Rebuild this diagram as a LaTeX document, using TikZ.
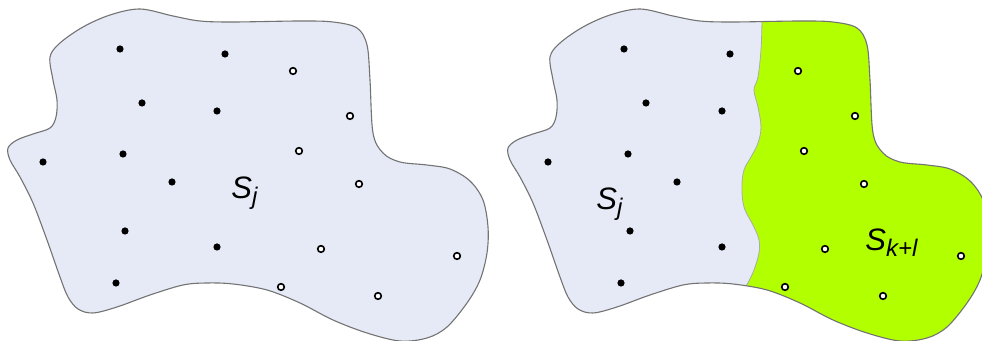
\documentclass[tikz,border=0pt]{standalone}
\usepackage{fontspec}
\setmainfont{Liberation Sans}
\definecolor{regionblue}{RGB}{229,234,246}
\definecolor{regiongreen}{RGB}{178,255,0}
\definecolor{edgegray}{RGB}{115,115,115}
\tikzset{
  blob/.style={insert path={plot[smooth cycle, tension=0.55] coordinates {
    (50,57) (60,43) (83,27) (110,15) (140,9) (173,16) (200,21) (233,22)
    (300,21) (333,22) (357,28) (367,45) (370,80) (373,133) (383,153)
    (400,162) (427,165) (450,169) (470,181) (483,200) (488,227) (487,253)
    (480,280) (467,303) (447,327) (427,338) (400,341) (367,333) (333,320)
    (300,303) (267,290) (233,284) (207,283) (183,285) (150,295) (117,307)
    (93,313) (78,309) (68,297) (60,277) (47,240) (33,203) (20,177) (10,160)
    (8,148) (17,140) (33,134) (50,128) (56,117) (57,100) (53,80)}}},
  soliddot/.style={circle, fill=black, inner sep=0pt, minimum size=3.6pt},
  opendot/.style={circle, draw=black, fill=white, line width=0.8pt, inner sep=0pt, minimum size=3.3pt},
  setlabel/.style={anchor=base west, inner sep=0pt, font=\fontsize{15.5}{18}\selectfont\itshape}
}
\newcommand{\sub}[1]{\raisebox{-3pt}{\fontsize{12}{14}\selectfont\itshape #1}}
\begin{document}
\begin{tikzpicture}[x=0.5pt, y=-0.5pt]
  \useasboundingbox (0,0) rectangle (982,341);
  \clip (0,0) rectangle (982,341);
  % === left set S_j ===
  \path[blob, fill=regionblue];
  \path[blob, draw=edgegray, line width=0.55pt];
  \foreach \x/\y [count=\i] in {120/49, 225/54, 142/103, 217/111, 123/154,
      43/162, 172/182, 125/231, 217/247, 116/283}
    \node[soliddot] (sL\i) at (\x,\y) {};
  \foreach \x/\y [count=\i] in {293/71, 350/116, 299/151, 359/184, 321/249,
      457/256, 281/287, 378/296}
    \node[opendot] (oL\i) at (\x,\y) {};
  \node[setlabel] (labSj) at (231,199) {S\sub{j}};
  % === right set, split into S_j and S_{k+l} ===
  \begin{scope}[shift={(500,0)}]
    \path[blob, fill=regionblue];
    \begin{scope}
      \path[blob, clip];
      \fill[regiongreen] plot[smooth, tension=0.6] coordinates {
          (262,0) (262,21) (261,50) (258,77) (254,90) (258,107) (261,127)
          (258,143) (251,157) (244,170) (242,187) (244,207) (254,227)
          (259,240) (259,253) (254,270) (248,283) (243,295) (238,345)}
        -- (600,345) -- (600,0) -- cycle;
      \draw[edgegray!60, line width=0.4pt] plot[smooth, tension=0.6] coordinates {
          (262,0) (262,21) (261,50) (258,77) (254,90) (258,107) (261,127)
          (258,143) (251,157) (244,170) (242,187) (244,207) (254,227)
          (259,240) (259,253) (254,270) (248,283) (243,295) (238,345)};
    \end{scope}
    \path[blob, draw=edgegray, line width=0.55pt];
  \end{scope}
  \foreach \x/\y [count=\i] in {624/49, 730/54, 646/103, 722/111, 628/154,
      548/162, 677/182, 630/231, 722/247, 621/283}
    \node[soliddot] (sR\i) at (\x,\y) {};
  \foreach \x/\y [count=\i] in {798/71, 855/116, 804/151, 864/184, 825/249,
      961/256, 785/287, 883/296}
    \node[opendot] (oR\i) at (\x,\y) {};
  \node[setlabel] (labSjR) at (596,210) {S\sub{j}};
  \node[setlabel] (labSkl) at (865,251) {S\sub{k+l}};
\end{tikzpicture}
\end{document}
